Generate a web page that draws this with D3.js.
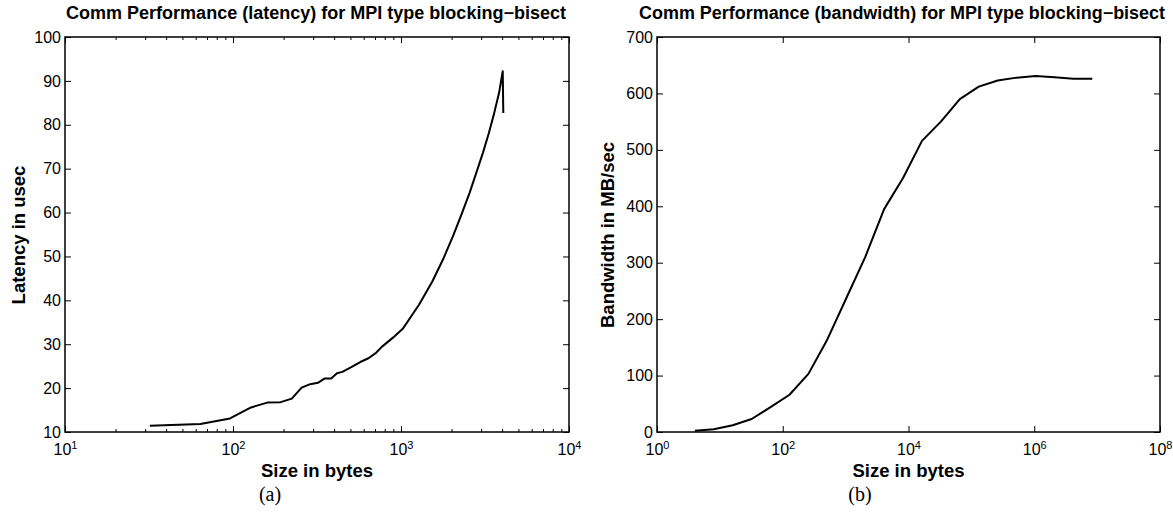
<!DOCTYPE html>
<html>
<head>
<meta charset="utf-8">
<script src="https://cdn.jsdelivr.net/npm/d3@7"></script>
<style>
  body { margin: 0; background: #fff; }
  text { font-family: "Liberation Sans", Arial, sans-serif; fill: #000; }
</style>
</head>
<body>
<div class="charts"></div>
<script>
// latency panel (a)
const latSize = [32, 64, 96, 128, 160, 192, 224, 256, 288, 320, 352, 384, 416, 448, 512,
  576, 640, 704, 768, 896, 1024, 1280, 1536, 1792, 2048, 2304, 2560, 2816, 3072,
  3328, 3584, 3840, 4032, 4064];
const latUsec = [11.4, 11.8, 13.1, 15.6, 16.7, 16.8, 17.6, 20.1, 20.9, 21.2, 22.2, 22.2, 23.4, 23.7, 24.9,
  26.0, 26.8, 27.9, 29.4, 31.5, 33.5, 39.0, 44.3, 49.6, 54.8, 59.8, 64.5, 69.2, 73.6,
  78.0, 82.6, 87.4, 92.2, 82.7];
const latYTicks = [10, 20, 30, 40, 50, 60, 70, 80, 90, 100];
const latXTicks = [10, 100, 1000, 10000];

// bandwidth panel (b)
const bwSize = [4, 8, 16, 32, 64, 128, 256, 512, 1024, 2048, 4096, 8192, 16384, 32768,
  65536, 131072, 262144, 524288, 1048576, 2097152, 4194304, 8388608];
const bwRate = [2, 5, 12, 23, 44, 66, 103, 164, 237, 310, 395, 450, 516, 550,
  590, 612, 623, 628, 631, 628.5, 626, 626];
const bwYTicks = [0, 100, 200, 300, 400, 500, 600, 700];
const bwXTicks = [1, 1e2, 1e4, 1e6, 1e8];

let svg = d3.select('.charts')
  .append('svg')
  .attr('width', 1173)
  .attr('height', 512);

// "10" with the exponent raised
function superLabel(sel) {
  sel.selectAll('.tick text').each(function (d) {
    let t = d3.select(this).text('');
    t.append('tspan').text('10');
    t.append('tspan')
      .attr('dy', '-0.55em')
      .attr('font-size', '11px')
      .text(Math.round(Math.log10(d)));
  });
}

function panel(opt) {
  let x = d3.scaleLog().domain(opt.xDomain).range([opt.left, opt.right]);
  let y = d3.scaleLinear().domain(opt.yDomain).range([432, 37]);
  let g = svg.append('g');

  // minor ticks (inside the box, top and bottom)
  if (opt.minor) {
    let minors = [];
    for (let e = opt.xDomain[0]; e < opt.xDomain[1]; e *= 10) {
      for (let k = 2; k <= 9; k++) minors.push(e * k);
    }
    g.append('g').attr('transform', 'translate(0,432)')
      .call(d3.axisBottom(x).tickValues(minors).tickSize(-3).tickFormat(''))
      .call(s => s.select('.domain').remove());
    g.append('g').attr('transform', 'translate(0,37)')
      .call(d3.axisTop(x).tickValues(minors).tickSize(-3).tickFormat(''))
      .call(s => s.select('.domain').remove());
  }

  let xb = g.append('g').attr('transform', 'translate(0,432)')
    .call(d3.axisBottom(x).tickValues(opt.xTicks).tickSize(-6).tickPadding(8));
  xb.select('.domain').remove();
  xb.selectAll('.tick text').attr('font-size', '16px').attr('dy', '0.95em');
  superLabel(xb);

  g.append('g').attr('transform', 'translate(0,37)')
    .call(d3.axisTop(x).tickValues(opt.xTicks).tickSize(-6).tickFormat(''))
    .call(s => s.select('.domain').remove());

  let yl = g.append('g').attr('transform', `translate(${opt.left},0)`)
    .call(d3.axisLeft(y).tickValues(opt.yTicks).tickSize(-6).tickPadding(4));
  yl.select('.domain').remove();
  yl.selectAll('.tick text').attr('font-size', '16px');

  g.append('g').attr('transform', `translate(${opt.right},0)`)
    .call(d3.axisRight(y).tickValues(opt.yTicks).tickSize(-6).tickFormat(''))
    .call(s => s.select('.domain').remove());

  g.selectAll('.tick line').attr('stroke', '#000').attr('stroke-width', 1);

  g.append('rect')
    .attr('x', opt.left).attr('y', 37)
    .attr('width', opt.right - opt.left).attr('height', 395)
    .attr('fill', 'none').attr('stroke', '#000').attr('stroke-width', 1.5);

  let line = d3.line()
    .x(d => x(d[0]))
    .y(d => y(d[1]));

  g.append('path')
    .attr('d', line(d3.zip(opt.xs, opt.ys)))
    .attr('fill', 'none')
    .attr('stroke', '#000')
    .attr('stroke-width', 2)
    .attr('stroke-linejoin', 'round');

  g.append('text')
    .attr('x', opt.titleX).attr('y', 19)
    .attr('text-anchor', 'middle')
    .attr('font-size', '17.5px').attr('font-weight', 'bold')
    .attr('textLength', opt.titleW).attr('lengthAdjust', 'spacingAndGlyphs')
    .text(opt.title);

  g.append('text')
    .attr('x', (opt.left + opt.right) / 2).attr('y', 477)
    .attr('text-anchor', 'middle')
    .attr('font-size', '18.5px').attr('font-weight', 'bold')
    .text('Size in bytes');

  g.append('text')
    .attr('transform', `translate(${opt.yLabelX},235) rotate(-90)`)
    .attr('text-anchor', 'middle')
    .attr('font-size', '18.5px').attr('font-weight', 'bold')
    .text(opt.yLabel);

  g.append('text')
    .attr('x', opt.capX).attr('y', 501)
    .attr('text-anchor', 'middle')
    .style('font-family', '"Liberation Serif", "Times New Roman", serif')
    .attr('font-size', '20px')
    .text(opt.caption);
}

panel({
  left: 65, right: 569,
  xDomain: [10, 10000], yDomain: [10, 100],
  xTicks: latXTicks, yTicks: latYTicks, minor: true,
  xs: latSize, ys: latUsec,
  title: 'Comm Performance (latency) for MPI type blocking\u2212bisect',
  titleX: 316, titleW: 500,
  yLabel: 'Latency in usec', yLabelX: 25,
  caption: '(a)', capX: 270
});

panel({
  left: 657, right: 1160,
  xDomain: [1, 1e8], yDomain: [0, 700],
  xTicks: bwXTicks, yTicks: bwYTicks, minor: false,
  xs: bwSize, ys: bwRate,
  title: 'Comm Performance (bandwidth) for MPI type blocking\u2212bisect',
  titleX: 902, titleW: 526,
  yLabel: 'Bandwidth in MB/sec', yLabelX: 614,
  caption: '(b)', capX: 860
});
</script>
</body>
</html>
